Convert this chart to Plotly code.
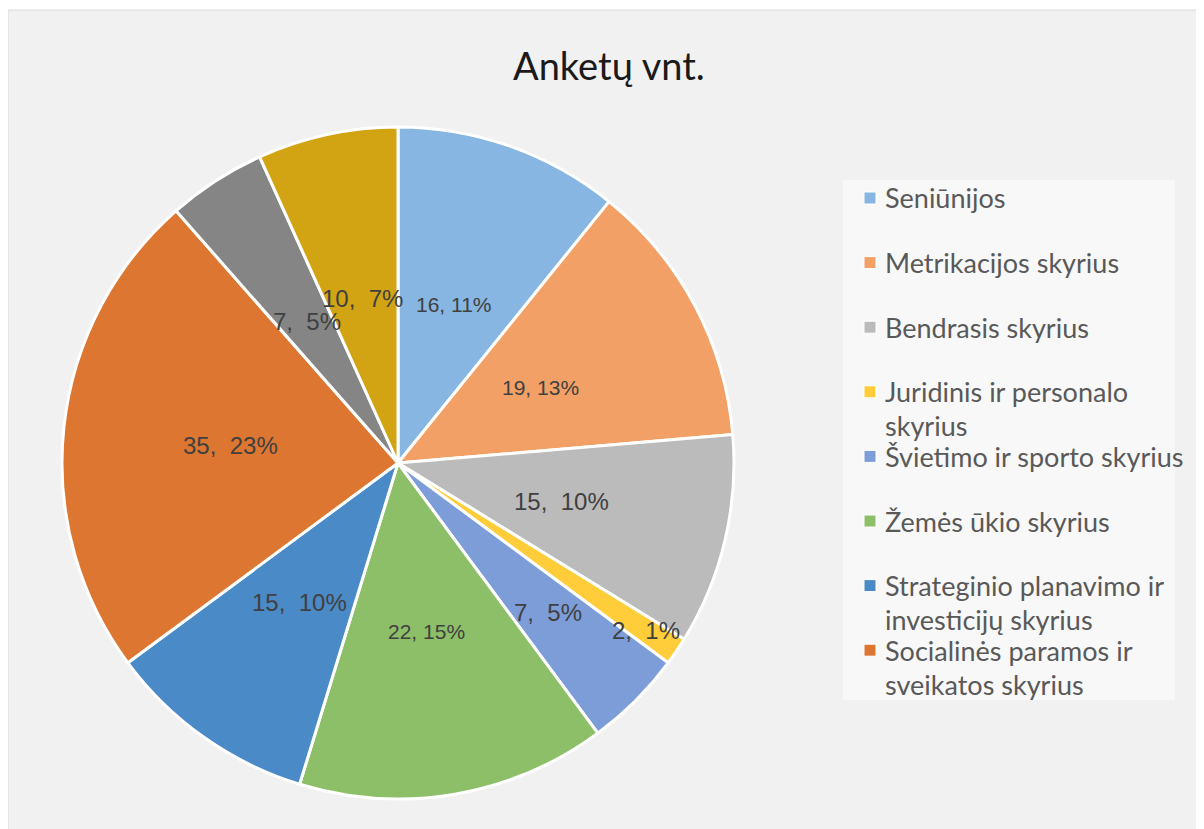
import math
import plotly.graph_objects as go

# ---- data ----
labels = [
    "Seniūnijos",
    "Metrikacijos skyrius",
    "Bendrasis skyrius",
    "Juridinis ir personalo skyrius",
    "Švietimo ir sporto skyrius",
    "Žemės ūkio skyrius",
    "Strateginio planavimo ir investicijų skyrius",
    "Socialinės paramos ir sveikatos skyrius",
    "Kiti skyriai (1)",
    "Kiti skyriai (2)",
]
values = [16, 19, 15, 2, 7, 22, 15, 35, 7, 10]
pct_labels = ["11%", "13%", "10%", "1%", "5%", "15%", "10%", "23%", "5%", "7%"]
legend_lines = [
    ["Seniūnijos"],
    ["Metrikacijos skyrius"],
    ["Bendrasis skyrius"],
    ["Juridinis ir personalo", "skyrius"],
    ["Švietimo ir sporto skyrius"],
    ["Žemės ūkio skyrius"],
    ["Strateginio planavimo ir", "investicijų skyrius"],
    ["Socialinės paramos ir", "sveikatos skyrius"],
]

# ---- styling ----
colors = ["#86B6E1", "#F2A066", "#BBBBBB", "#FFCC3A", "#7C9DD8",
          "#8CBF68", "#4A8AC7", "#DD7631", "#858585", "#D2A414"]
seps = [", ", ", ", ",  ", ",  ", ",  ", ", ", ",  ", ",  ", ",  ", ",  "]
text_sizes = [21, 21, 24, 24, 24, 21, 24, 24, 24, 24]
label_radius = [0.5, 0.48, 0.5, 0.89, 0.63, 0.51, 0.51, 0.5, 0.5, 0.5]

# page body margin offset (8px) -> figure is drawn at page (8, 8)
OX, OY = 8, 8
W, H = 1204 - OX, 829 - OY
def px(x):
    return (x - OX) / W
def py(y):
    return 1 - (y - OY) / H

# pie geometry (page pixels)
CX, CY, R = 398, 463, 336

fig = go.Figure()
fig.add_trace(go.Pie(
    labels=labels,
    values=values,
    textinfo="none",
    marker=dict(colors=colors, line=dict(color="white", width=3)),
    sort=False,
    direction="clockwise",
    rotation=0,
    showlegend=False,
    domain=dict(x=[px(CX - R), px(CX + R)], y=[py(CY + R), py(CY - R)]),
    hoverinfo="label+value+percent",
))

shapes = [
    dict(type="rect", xref="paper", yref="paper", x0=px(8), x1=1.02, y0=-0.02, y1=py(10),
         fillcolor="#F1F1F1", line=dict(color="#D9D9D9", width=1), layer="below"),
    dict(type="rect", xref="paper", yref="paper", x0=px(843), x1=px(1175), y0=py(700), y1=py(180),
         fillcolor="#F8F8F8", line=dict(width=0), layer="below"),
]
annotations = [
    dict(text="Anketų vnt.", xref="paper", yref="paper", x=px(609), y=py(65),
         showarrow=False, xanchor="center", yanchor="middle",
         font=dict(family="Lato, Open Sans", size=38, color="#1A1A1A")),
]

# data labels at slice mid-angles (derived from the values)
total = sum(values)
cum = 0
for i, v in enumerate(values):
    mid = (cum + v / 2) / total * 2 * math.pi
    cum += v
    r = label_radius[i] * R
    lx = CX + r * math.sin(mid)
    ly = CY - r * math.cos(mid)
    annotations.append(dict(
        text=f"{v}{seps[i]}{pct_labels[i]}", xref="paper", yref="paper",
        x=px(lx), y=py(ly), showarrow=False, xanchor="center", yanchor="middle",
        font=dict(family="Liberation Sans, Arial", size=text_sizes[i], color="#404040")))

item_gap = 64.6
line_gap = 34
for i, lines in enumerate(legend_lines):
    yc = 198 + i * item_gap
    shapes.append(dict(type="rect", xref="paper", yref="paper",
                       x0=px(864), x1=px(876), y0=py(yc + 6), y1=py(yc - 6),
                       fillcolor=colors[i], line=dict(color="white", width=1)))
    for j, ln in enumerate(lines):
        annotations.append(dict(text=ln, xref="paper", yref="paper",
                                x=px(883), y=py(yc + j * line_gap),
                                showarrow=False, xanchor="left", yanchor="middle",
                                font=dict(family="Lato, Open Sans", size=27, color="#595959")))

fig.update_layout(
    width=W, height=H,
    margin=dict(l=0, r=0, t=0, b=0),
    paper_bgcolor="white",
    plot_bgcolor="white",
    shapes=shapes,
    annotations=annotations,
)

fig.write_html("out.html")
